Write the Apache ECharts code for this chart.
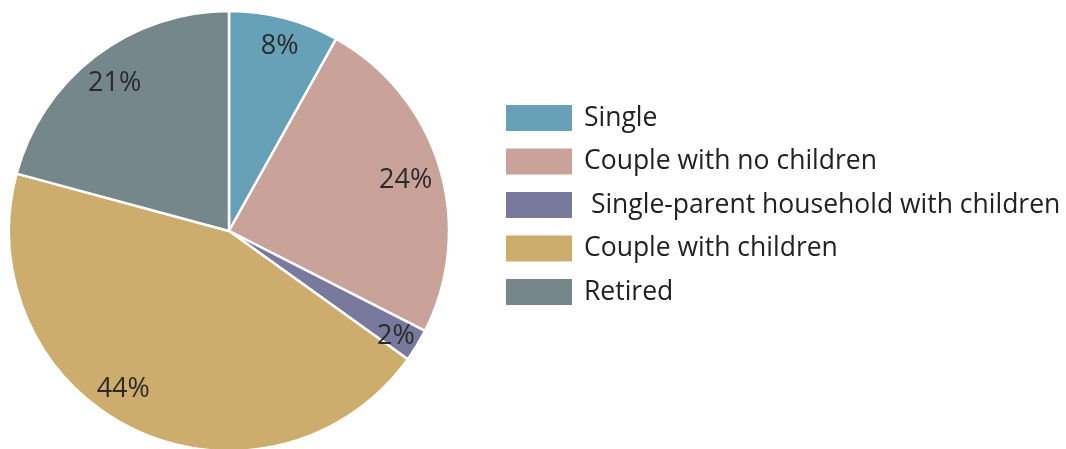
<!DOCTYPE html>
<html>
<head>
<meta charset="utf-8">
<style>
  html, body { margin: 0; padding: 0; background: #fff; }
  #main { width: 1066px; height: 449px; }
</style>
</head>
<body>
<div id="main"></div>
<script src="https://cdn.jsdelivr.net/npm/echarts@6/dist/echarts.min.js"></script>
<script>
  // household types and their share (%)
  var categories = ['Single', 'Couple with no children', ' Single-parent household with children', 'Couple with children', 'Retired'];
  var shares = [8.1, 24.4, 2.4, 44.3, 20.8];
  var colors = ['#66a1b8', '#c9a29a', '#79789d', '#ccad6d', '#75878a'];

  var pieData = categories.map(function (name, i) {
    return { name: name, value: shares[i] };
  });
  // small hand nudges of the % labels, like in the original artwork
  var labelNudge = [[2, 2], [-8, 5], [2, 5], [-23, -16], [3, 6]];
  var labelData = pieData.map(function (d, i) {
    return { name: d.name, value: d.value, label: { offset: labelNudge[i] } };
  });

  var app = echarts.init(document.getElementById('main'));
  var option = {
    color: colors,
    animation: false,
    legend: {
      orient: 'vertical',
      left: 499,
      top: 98,
      itemWidth: 68,
      itemHeight: 28,
      itemGap: 13.5,
      icon: 'rect',
      selectedMode: false,
      data: categories,
      textStyle: {
        fontFamily: 'Open Sans',
        fontSize: 26.5,
        lineHeight: 28,
        color: '#222',
        padding: [0, 0, 0, 6]
      }
    },
    series: [{
      // the pie itself
      type: 'pie',
      center: [229, 231],
      radius: [0, 220],
      startAngle: 90,
      clockwise: true,
      silent: true,
      label: { show: false },
      labelLine: { show: false },
      itemStyle: { borderColor: '#fff', borderWidth: 2.5 },
      data: pieData
    }, {
      // transparent ring, only to place the % labels near the rim
      type: 'pie',
      center: [229, 231],
      radius: [160, 220],
      startAngle: 90,
      clockwise: true,
      silent: true,
      itemStyle: { color: 'rgba(0,0,0,0)', borderWidth: 0 },
      label: {
        show: true,
        position: 'inside',
        fontFamily: 'Open Sans',
        fontSize: 27,
        color: '#2a2a2a',
        formatter: function (p) { return Math.round(p.value) + '%'; }
      },
      labelLine: { show: false },
      data: labelData
    }]
  };
  app.setOption(option);
</script>
</body>
</html>
